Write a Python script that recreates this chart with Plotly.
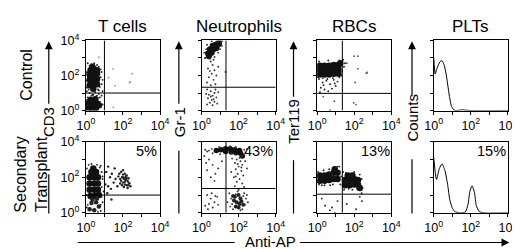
import plotly.graph_objects as go

W, H = 520, 249
def P(x): return x / W
def Q(y): return 1 - y / H

# ---------------- data (log10 decades) ----------------
col_titles = ["T cells", "Neutrophils", "RBCs", "PLTs"]
row_labels = ["Control", "Secondary<br>Transplant"]
y_markers = ["CD3", "Gr-1", "Ter119", "Counts"]
x_marker = "Anti-AP"
tick_vals = [0, 1, 2, 3, 4]
tick_text = ["10<sup>0</sup>", "", "10<sup>2</sup>", "", "10<sup>4</sup>"]
percent_labels = ["5%", "43%", "13%", "15%"]

# T cells control
t1_core_x = [0.2, 0.4, 0.6, 0.2, 0.4, 0.6, 0.2, 0.4, 0.6, 0.25, 0.45, 0.6, 0.4, 0.35,
             0.15, 0.35, 0.55, 0.15, 0.35, 0.55, 0.7, 0.25, 0.5]
t1_core_y = [1.45, 1.45, 1.5, 1.75, 1.75, 1.8, 2.05, 2.05, 2.1, 2.3, 2.35, 2.3, 1.25, 2.5,
             0.12, 0.12, 0.15, 0.4, 0.4, 0.45, 0.3, 0.62, 0.65]
t1_dot_x = [0.05, 0.1, 0.7, 0.8, 0.85, 0.65, 0.05, 0.45, 0.85, 0.2, 0.75, 0.6, 0.9, 0.05,
            0.2, 0.5, 0.7, 0.35, 0.85, 0.1, 0.75, 0.8, 0.65, 0.05, 0.9, 0.6, 0.3, 0.55,
            0.15, 0.3, 0.8, 0.7, 0.1, 0.45, 0.9, 0.05, 0.6, 0.4, 0.75]
t1_dot_y = [1.1, 2.7, 2.5, 1.9, 1.5, 1.2, 1.3, 2.7, 2.2, 2.55, 1.35, 2.6, 1.75, 2.2,
            1.0, 1.05, 0.95, 0.9, 0.85, 0.75, 0.5, 0.2, 0.7, 0.6, 0.35, 0.05, 0.85, 0.8,
            1.2, 2.65, 2.35, 1.15, 0.3, 1.15, 1.1, 1.7, 0.85, 0.9, 0.75]
t1_far_x = [0.7, 2.5, 1.57, 2.35, 1.48, 1.22, 1.47, 2.4]
t1_far_y = [3.04, 2.1, 1.42, 1.6, 0.18, 1.87, 2.38, 1.64]

# Neutrophils control
n1_core_x = [0.35, 0.55, 0.45, 0.65, 0.8, 0.6, 0.75, 0.9, 0.95, 0.4]
n1_core_y = [3.25, 3.3, 3.5, 3.5, 3.55, 3.7, 3.75, 3.75, 3.85, 3.1]
n1_dot_x = [0.2, 0.25, 0.55, 1.05, 1.0, 0.3, 0.7, 0.9, 0.15, 1.1, 0.45, 0.65, 1.1, 0.2, 0.8,
            0.5, 0.6, 0.35, 0.7, 0.55, 0.8, 0.4, 0.65, 0.3, 0.75, 0.5, 1.3, 0.9, 0.45,
            0.3, 0.5, 0.7, 0.4, 0.6, 0.8, 0.35, 0.55, 0.7, 0.45, 0.25, 0.9, 0.6, 0.3,
            0.85, 0.5, 0.75, 0.65]
n1_dot_y = [3.0, 3.5, 3.95, 3.9, 3.5, 3.75, 3.05, 3.3, 3.3, 3.7, 2.95, 2.9, 3.95, 3.0, 3.95,
            2.8, 2.6, 2.4, 2.3, 2.1, 2.0, 1.9, 1.75, 1.6, 1.5, 1.45, 2.2, 2.5, 2.25,
            1.2, 1.1, 1.0, 0.9, 0.85, 0.75, 0.7, 0.6, 0.5, 0.45, 0.95, 1.05, 0.3, 0.35,
            0.4, 0.8, 1.2, 0.65]

# RBCs control
r1_core_x = [0.15, 0.4, 0.65, 0.9, 1.15, 0.15, 0.4, 0.65, 0.9, 1.15, 0.15, 0.4, 0.65, 0.9, 1.15, 1.25]
r1_core_y = [2.05, 2.05, 2.05, 2.1, 2.1, 2.3, 2.3, 2.3, 2.35, 2.35, 2.55, 2.55, 2.55, 2.6, 2.6, 2.7]
r1_dot_x = [1.4, 1.45, 1.3, 1.2, 0.6, 0.1, 1.5, 0.05, 0.3, 0.85, 1.35,
            0.1, 0.3, 0.5, 0.7, 0.2, 0.4, 0.9, 1.0, 0.6, 0.15, 1.1, 0.8, 0.35, 1.2, 0.55, 0.95]
r1_dot_y = [2.9, 2.5, 2.0, 2.85, 2.85, 2.8, 2.7, 1.9, 1.85, 1.85, 2.25,
            1.8, 1.6, 1.7, 1.5, 1.3, 1.2, 1.75, 1.4, 1.1, 1.05, 1.65, 1.25, 1.45, 1.9, 1.8, 1.55]
r1_far_x = [2.2, 2.65, 2.05, 1.97, 0.33, 0.93, 2.2, 2.7, 1.6, 2.0, 2.1, 0.7]
r1_far_y = [3.1, 2.13, 1.6, 0.44, 0.8, 0.53, 2.38, 2.17, 2.7, 3.1, 0.34, 0.02]

# T cells transplant
t2_core_x = [0.2, 0.45, 0.65, 0.2, 0.45, 0.65, 0.2, 0.45, 0.65, 0.3, 0.55, 0.4,
             0.25, 0.5, 0.7]
t2_core_y = [1.3, 1.3, 1.3, 1.65, 1.65, 1.65, 2.0, 2.0, 2.0, 2.3, 2.3, 2.5,
             0.95, 0.95, 1.0]
t2_mid_x = [0.3, 0.55, 0.2, 0.45, 0.7, 0.35, 0.6]
t2_mid_y = [0.55, 0.6, 0.2, 0.15, 0.35, 0.75, 0.8]
t2_dot_x = [0.05, 0.85, 0.9, 0.85, 0.8, 0.15, 0.05, 0.85, 0.9, 0.8, 0.1, 0.65, 0.95, 0.75,
            0.1, 0.05, 0.9, 0.3, 0.6, 0.8, 0.15]
t2_dot_y = [2.5, 2.3, 1.9, 1.45, 2.65, 2.7, 1.0, 0.9, 0.6, 0.1, 0.45, 0.05, 1.2, 2.55,
            1.7, 0.3, 2.05, 2.75, 2.7, 0.45, 1.25]
t2_ap_x = [1.8, 1.9, 2.0, 2.1, 2.2, 1.95, 2.05, 2.15, 2.25, 2.3, 1.85, 2.0, 2.1, 2.2,
           2.35, 1.95, 2.05, 2.25, 2.4, 1.75, 2.15, 1.9, 2.3, 2.0, 2.1, 2.2, 1.85, 2.0, 2.12, 2.28,
           1.1, 1.3, 1.5, 1.2, 1.4, 1.6, 1.05, 1.35, 1.55, 1.2, 1.7, 1.38, 1.15]
t2_ap_y = [2.2, 2.3, 2.4, 2.2, 2.1, 2.0, 1.9, 1.85, 1.8, 1.95, 1.9, 1.7, 1.6, 1.55,
           1.65, 1.55, 1.45, 1.4, 1.5, 2.05, 2.05, 1.8, 1.7, 2.15, 1.75, 1.95, 1.65, 2.0, 1.95, 1.55,
           2.3, 2.0, 1.7, 1.5, 2.2, 1.9, 1.6, 1.35, 2.5, 2.6, 1.5, 0.75, 1.1]

# Neutrophils transplant
n2_core_x = [0.8, 1.05, 1.3, 1.55, 1.8, 2.05, 1.3, 1.6, 1.85, 2.1, 2.2]
n2_core_y = [3.5, 3.55, 3.6, 3.6, 3.55, 3.5, 3.45, 3.42, 3.38, 3.35, 3.2]
n2_mid_x = [1.8, 2.0, 2.1, 1.9, 2.05, 1.85, 2.15, 1.75, 2.0, 2.25, 1.7]
n2_mid_y = [0.9, 1.0, 0.8, 0.6, 0.5, 0.35, 0.65, 0.7, 0.3, 0.45, 0.95]
n2_dot_x = [0.4, 0.55, 0.3, 0.6, 0.95, 1.25, 1.55, 1.85, 2.3, 2.4, 2.45, 0.2, 1.0, 1.6, 2.2,
            1.9, 2.1, 1.8, 2.2, 2.0, 1.85, 2.15, 1.95, 2.25, 1.75, 2.05, 1.9, 2.2, 1.8,
            2.3, 2.0, 2.35, 1.6, 2.45, 1.65, 2.05, 1.95, 2.15, 1.85,
            0.4, 0.6, 0.3, 0.75, 0.5, 0.9, 0.25, 0.7, 0.15, 1.1,
            1.5, 1.6, 1.65, 2.3, 2.4, 2.35, 2.5, 1.7, 2.2, 1.55, 2.25, 1.95, 1.4, 2.45,
            1.85, 2.1,
            0.3, 0.5, 0.7, 0.4, 0.6, 0.85, 0.2, 0.9, 0.55, 0.35, 0.75]
n2_dot_y = [3.5, 3.6, 3.45, 3.35, 3.7, 3.7, 3.75, 3.7, 3.55, 3.35, 3.6, 3.55, 3.3, 3.35, 3.2,
            3.0, 2.9, 2.8, 2.7, 2.6, 2.45, 2.35, 2.2, 2.1, 2.0, 1.9, 1.75, 1.65, 1.5,
            1.45, 1.3, 2.9, 2.3, 2.5, 3.05, 3.1, 2.75, 2.55, 2.05,
            3.0, 2.7, 2.4, 2.2, 2.0, 2.5, 2.8, 1.8, 3.2, 2.9,
            1.1, 0.8, 0.5, 1.1, 0.8, 0.45, 0.6, 0.2, 0.2, 0.35, 0.95, 1.2, 0.6, 1.0,
            1.05, 0.15,
            1.0, 0.8, 0.6, 0.5, 0.3, 0.9, 0.4, 0.45, 1.1, 0.2, 0.95]

# RBCs transplant
r2_core_x = [0.15, 0.4, 0.65, 0.9, 1.1, 0.15, 0.4, 0.65, 0.9, 1.1, 0.95,
             1.5, 1.75, 2.0, 2.2, 1.5, 1.75, 2.0, 2.2, 1.65, 1.9, 2.3]
r2_core_y = [1.8, 1.8, 1.85, 1.9, 1.9, 2.1, 2.1, 2.15, 2.25, 2.25, 2.45,
             1.55, 1.55, 1.6, 1.6, 1.85, 1.85, 1.9, 1.85, 2.1, 2.1, 1.4]
r2_dot_x = [0.05, 0.1, 0.35, 0.65, 1.2, 1.25, 0.4, 0.7, 1.1, 1.3, 0.05, 0.25, 0.85,
            1.4, 1.55, 2.0, 2.3, 2.4, 2.35, 2.4, 2.3, 2.42, 2.15, 1.7, 2.45, 1.45, 1.9,
            0.43, 0.69, 1.1, 0.95, 0.25, 0.8, 1.6, 2.1]
r2_dot_y = [2.0, 1.6, 2.4, 2.45, 2.6, 1.6, 1.55, 1.55, 2.6, 2.05, 2.3, 1.55, 1.6,
            2.3, 2.25, 2.3, 2.15, 1.9, 1.3, 1.1, 0.9, 0.66, 1.35, 1.35, 1.4, 1.3, 1.3,
            0.4, 0.14, 0.66, 0.0, 0.8, 0.3, 0.5, 0.2]

# PLT histograms (normalised counts)
h1_x = [0.0, 0.08, 0.15, 0.25, 0.35, 0.45, 0.55, 0.65, 0.75, 0.85, 0.95, 1.05, 1.2, 1.5, 2.0, 4.0]
h1_y = [0.76, 0.52, 0.58, 0.65, 0.70, 0.71, 0.66, 0.55, 0.38, 0.2, 0.07, 0.02, 0.0, 0.01, 0.0, 0.0]
h2_x = [0.0, 0.15, 0.3, 0.45, 0.6, 0.75, 0.87, 1.0, 1.13, 1.4, 1.7, 1.85, 1.95, 2.07, 2.2, 2.3, 2.45, 2.7, 4.0]
h2_y = [0.78, 0.47, 0.62, 0.69, 0.6, 0.4, 0.18, 0.07, 0.02, 0.0, 0.01, 0.12, 0.3, 0.38, 0.28, 0.1, 0.02, 0.0, 0.0]

# gates (decades): (vertical x, horizontal y) per scatter panel
gates = {1: (1.0, 1.0), 2: (1.32, 1.33), 3: (1.36, 0.98),
         5: (1.0, 1.0), 6: (1.32, 1.37), 7: (1.36, 1.05)}

# ---------------- figure ----------------
fig = go.Figure()
col_x0 = [71.5, 191.5, 311.5, 432.5]
col_w = 77
row_y = [(25, 100), (133.3, 209.3)]
FONT = "Liberation Sans"

for r in range(2):
    for c in range(4):
        k = r * 4 + c + 1
        xa = "xaxis" if k == 1 else f"xaxis{k}"
        ya = "yaxis" if k == 1 else f"yaxis{k}"
        fig.layout[xa] = dict(
            domain=[P(col_x0[c]), P(col_x0[c] + col_w)], anchor=f"y{k}" if k > 1 else "y",
            range=[0, 4], tickvals=tick_vals, ticktext=tick_text, ticks="outside",
            ticklen=3, tickwidth=1, tickcolor="black", showline=True, mirror=True,
            linecolor="black", linewidth=1, showgrid=False, zeroline=False,
            tickfont=dict(family=FONT, size=12.5, color="black"), fixedrange=True)
        fig.layout[ya] = dict(
            domain=[Q(row_y[r][1]), Q(row_y[r][0])], anchor=f"x{k}" if k > 1 else "x",
            range=[0, 4] if c < 3 else [0, 1], tickvals=tick_vals if c < 3 else [0, 0.25, 0.5, 0.75, 1],
            ticktext=tick_text if c == 0 else [""] * 5, ticks="outside", ticklen=3, tickwidth=1,
            tickcolor="black", showline=True, mirror=True, linecolor="black", linewidth=1,
            showgrid=False, zeroline=False,
            tickfont=dict(family=FONT, size=12.5, color="black"), fixedrange=True)

def add_pts(k, xs, ys, size, color="black"):
    fig.add_trace(go.Scatter(x=xs, y=ys, mode="markers",
                             marker=dict(size=size, color=color, line=dict(width=0)),
                             xaxis=f"x{k}" if k > 1 else "x", yaxis=f"y{k}" if k > 1 else "y",
                             showlegend=False, hoverinfo="skip"))

DOT = 1.9
add_pts(1, t1_core_x, t1_core_y, 6.5, "#111")
add_pts(1, t1_dot_x, t1_dot_y, DOT, "#222")
add_pts(1, t1_far_x, t1_far_y, 1.8, "#999")
add_pts(2, n1_core_x, n1_core_y, 6, "#111")
add_pts(2, n1_dot_x, n1_dot_y, DOT, "#333")
add_pts(3, r1_core_x, r1_core_y, 6.5, "#111")
add_pts(3, r1_dot_x, r1_dot_y, DOT, "#222")
add_pts(3, r1_far_x, r1_far_y, 1.8, "#555")
add_pts(5, t2_core_x, t2_core_y, 6.5, "#111")
add_pts(5, t2_mid_x, t2_mid_y, 4.5, "#222")
add_pts(5, t2_dot_x, t2_dot_y, DOT, "#222")
add_pts(5, t2_ap_x, t2_ap_y, 2.4, "#222")
add_pts(6, n2_core_x, n2_core_y, 5.5, "#111")
add_pts(6, n2_mid_x, n2_mid_y, 4, "#222")
add_pts(6, n2_dot_x, n2_dot_y, DOT, "#333")
add_pts(7, r2_core_x, r2_core_y, 6.5, "#111")
add_pts(7, r2_dot_x, r2_dot_y, DOT, "#222")

for k, (hx, hy) in [(4, (h1_x, h1_y)), (8, (h2_x, h2_y))]:
    fig.add_trace(go.Scatter(x=hx, y=hy, mode="lines", line=dict(color="black", width=1, shape="spline", smoothing=0.6),
                             xaxis=f"x{k}", yaxis=f"y{k}", showlegend=False, hoverinfo="skip"))

shapes = []
for k, (gx, gy) in gates.items():
    xr = f"x{k}" if k > 1 else "x"
    yr = f"y{k}" if k > 1 else "y"
    shapes.append(dict(type="line", xref=xr, yref=yr, x0=gx, x1=gx, y0=0, y1=4, line=dict(color="black", width=1)))
    shapes.append(dict(type="line", xref=xr, yref=yr, x0=0, x1=4, y0=gy, y1=gy, line=dict(color="black", width=1)))

ann = []
# column titles
for c, t in enumerate(col_titles):
    ann.append(dict(text=t, x=P(col_x0[c] + col_w / 2 + (-1 if c == 0 else 0)), y=Q(10), xref="paper", yref="paper",
                    showarrow=False, font=dict(family=FONT, size=17, color="black"), xanchor="center", yanchor="middle"))
# row labels
ann.append(dict(text=row_labels[0], x=P(9), y=Q(62), xref="paper", yref="paper", textangle=-90, showarrow=False,
                font=dict(family=FONT, size=16, color="black"), xanchor="center", yanchor="middle"))
ann.append(dict(text=row_labels[1], x=P(15), y=Q(168), xref="paper", yref="paper", textangle=-90, showarrow=False,
                font=dict(family=FONT, size=16, color="black"), xanchor="center", yanchor="middle"))

# y-axis marker arrows
arrow_x = [33, 168, 287, 410]
upper_end = [90, 90, 83, 82]
lower_start = [168, 143, 153, 152]
text_y = [112, 112, 111, 108]
for c in range(4):
    ax_ = arrow_x[c]
    ann.append(dict(text="", x=P(ax_), y=Q(26), xref="paper", yref="paper", ax=0, ay=upper_end[c] - 26,
                    showarrow=True, arrowhead=2, arrowsize=1.3, arrowwidth=1.2, arrowcolor="black", standoff=0))
    shapes.append(dict(type="line", xref="paper", yref="paper", x0=P(ax_), x1=P(ax_), y0=Q(lower_start[c]), y1=Q(210),
                       line=dict(color="black", width=1.2)))
    ann.append(dict(text=y_markers[c], x=P(ax_ + 0.5), y=Q(text_y[c]), xref="paper", yref="paper", textangle=-90, showarrow=False,
                    font=dict(family=FONT, size=15, color="black"), xanchor="center", yanchor="middle"))

# bottom x arrow
shapes.append(dict(type="line", xref="paper", yref="paper", x0=P(63), x1=P(226), y0=Q(241), y1=Q(241),
                   line=dict(color="black", width=1.2)))
ann.append(dict(text="", x=P(511), y=Q(241), xref="paper", yref="paper", ax=-(511 - 300), ay=0,
                showarrow=True, arrowhead=2, arrowsize=1.3, arrowwidth=1.2, arrowcolor="black", standoff=0))
ann.append(dict(text=x_marker, x=P(263), y=Q(240), xref="paper", yref="paper", showarrow=False,
                font=dict(family=FONT, size=15, color="black"), xanchor="center", yanchor="middle"))

# percentages
pct_x = [134, 251, 372, 493]
for c in range(4):
    ann.append(dict(text=percent_labels[c], x=P(pct_x[c]), y=Q(143), xref="paper", yref="paper", showarrow=False,
                    font=dict(family=FONT, size=14.5, color="black"), xanchor="center", yanchor="middle"))

fig.update_layout(width=W, height=H, margin=dict(l=0, r=0, t=0, b=0), paper_bgcolor="white",
                  plot_bgcolor="white", shapes=shapes, annotations=ann, showlegend=False)
fig.write_html("out.html", config={"displayModeBar": False})
